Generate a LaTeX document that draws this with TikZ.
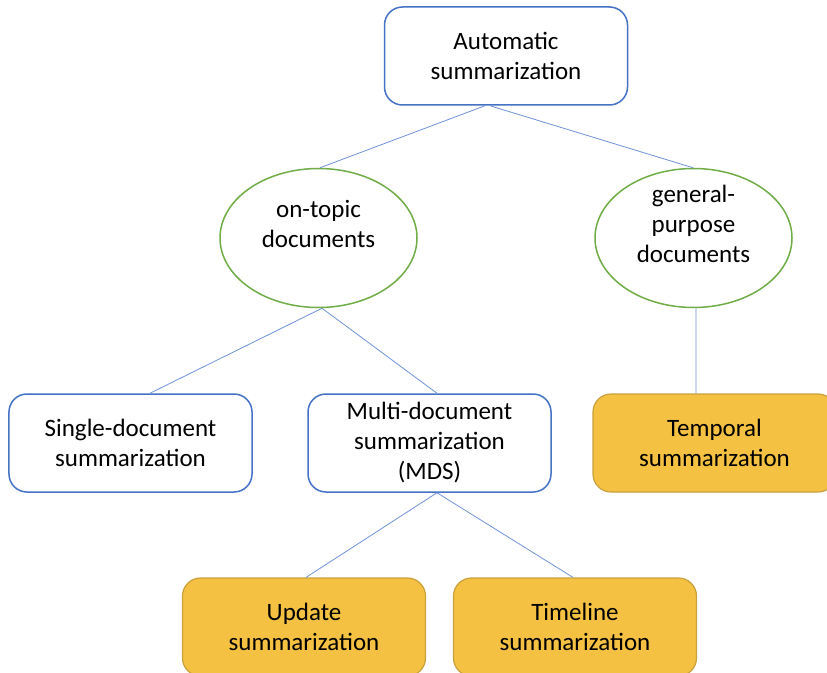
\documentclass[tikz,border=0pt]{standalone}
\usepackage{fontspec}
\setmainfont{Carlito}
\usetikzlibrary{shapes.geometric}
\definecolor{boxblue}{HTML}{4472C4}
\definecolor{linkblue}{HTML}{6F93D6}
\definecolor{ellgreen}{HTML}{70AD47}
\definecolor{goldfill}{HTML}{F4C142}
\definecolor{goldline}{HTML}{C9A13C}
\tikzset{
  every node/.style={font=\fontsize{25bp}{30bp}\selectfont, align=center},
  bluebox/.style={draw=boxblue, line width=1.5bp, fill=white, rounded corners=18bp,
    minimum width=243bp, minimum height=98bp, inner sep=0pt},
  goldbox/.style={draw=goldline, line width=1.2bp, fill=goldfill, rounded corners=18bp,
    minimum width=243bp, minimum height=98bp, inner sep=0pt},
  greenell/.style={draw=ellgreen, line width=1.5bp, ellipse, fill=white,
    minimum width=197bp, minimum height=139bp, inner sep=0pt},
  link/.style={draw=linkblue, line width=0.8bp}
}
\begin{document}
\begin{tikzpicture}[x=1bp, y=-1bp]
\useasboundingbox[fill=white] (0,0) rectangle (827,673);
% links first
\coordinate (autoL) at (485,107);
\coordinate (autoR) at (490,105);
\coordinate (otB) at (322,307);
\coordinate (mdsB) at (437,494);
% nodes
\node[bluebox] (auto) at (506,56) {Automatic\\summarization};
\node[greenell] (ot) at (318.5,238) {};
\node[greenell] (gp) at (693.5,238) {};
\node at (318.5,224) {on-topic\\documents};
\node at (693.5,224) {general-\\purpose\\documents};
\node[bluebox] (single) at (130.5,443) {Single-document\\summarization};
\node[bluebox] (mds) at (429.5,443) {Multi-document\\summarization\\(MDS)};
\node[goldbox] (temporal) at (714.5,443) {Temporal\\summarization};
\node[goldbox] (update) at (304,627) {Update\\summarization};
\node[goldbox] (timeline) at (575,627) {Timeline\\summarization};
% connectors
\draw[link] ([xshift=-21bp]auto.south) -- ([xshift=1.5bp]ot.north);
\draw[link] ([xshift=-16bp]auto.south) -- ([xshift=-0.5bp]gp.north);
\draw[link] ([xshift=3.5bp]ot.south) -- ([xshift=19.5bp]single.north);
\draw[link] ([xshift=3.5bp]ot.south) -- ([xshift=7.5bp]mds.north);
\draw[link] ([xshift=2.5bp]gp.south) -- ([xshift=-18.5bp]temporal.north);
\draw[link] ([xshift=7.5bp]mds.south) -- ([xshift=2bp]update.north);
\draw[link] ([xshift=7.5bp]mds.south) -- ([xshift=-2bp]timeline.north);
\end{tikzpicture}
\end{document}
